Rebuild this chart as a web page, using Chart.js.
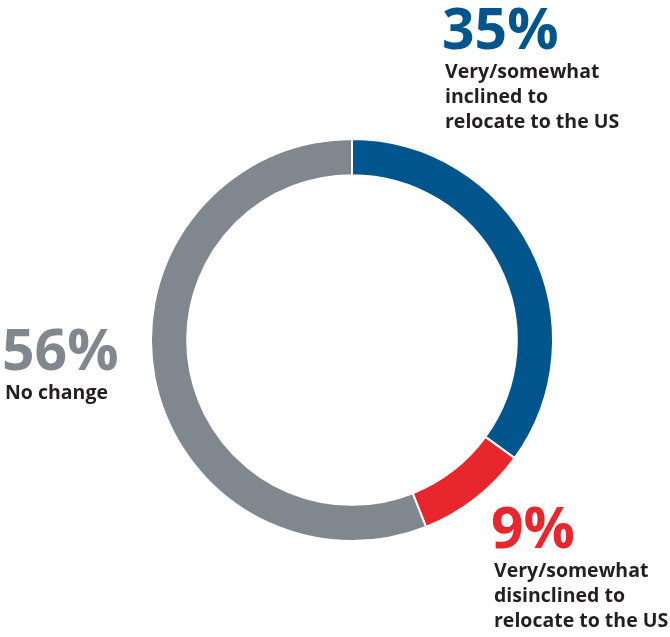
<!DOCTYPE html>
<html>
<head>
<meta charset="utf-8">
<script src="https://cdn.jsdelivr.net/npm/chart.js@4/dist/chart.umd.min.js"></script>
<style>
  html, body { margin: 0; padding: 0; background: #fff; }
  #wrap { width: 670px; height: 637px; position: relative; }
</style>
</head>
<body>
<div id="wrap"><canvas id="donut"></canvas></div>
<script>
const categories = [
    'Very/somewhat inclined to relocate to the US',
    'Very/somewhat disinclined to relocate to the US',
    'No change'
];
const shares = [35, 9, 56];
const colors = ['#00558c', '#e8262d', '#80878e'];

// text blocks beside the ring: x, baseline of the big number, label lines
const labelBlocks = [
    { x: 442, y: 49, lines: ['Very/somewhat', 'inclined to', 'relocate to the US'] },
    { x: 491, y: 548, lines: ['Very/somewhat', 'disinclined to', 'relocate to the US'] },
    { x: 2, y: 370, lines: ['No change'] }
];

const calloutPlugin = {
    id: 'callouts',
    afterDraw(chart) {
        const ctx = chart.ctx;
        const data = chart.data.datasets[0].data;
        ctx.save();
        ctx.textAlign = 'left';
        ctx.textBaseline = 'alphabetic';
        labelBlocks.forEach((b, i) => {
            ctx.fillStyle = colors[i];
            ctx.font = 'bold 57px "Open Sans"';
            ctx.fillText(data[i] + '%', b.x, b.y);
            ctx.fillStyle = '#231f20';
            ctx.font = 'bold 19.5px "Open Sans"';
            b.lines.forEach((line, j) => {
                ctx.fillText(line, b.x + 3, b.y + 29 + j * 25);
            });
        });
        ctx.restore();
    }
};

new Chart(document.getElementById('donut'), {
    type: 'doughnut',
    data: {
        labels: categories,
        datasets: [{
            data: shares,
            backgroundColor: colors,
            borderColor: '#ffffff',
            borderWidth: 2,
            hoverOffset: 0
        }]
    },
    options: {
        responsive: true,
        maintainAspectRatio: false,
        animation: false,
        cutout: '82%',
        events: [],
        layout: {
            padding: { left: 150, right: 116, top: 138, bottom: 95 }
        },
        plugins: {
            legend: { display: false },
            tooltip: { enabled: false }
        }
    },
    plugins: [calloutPlugin]
});
</script>
</body>
</html>
